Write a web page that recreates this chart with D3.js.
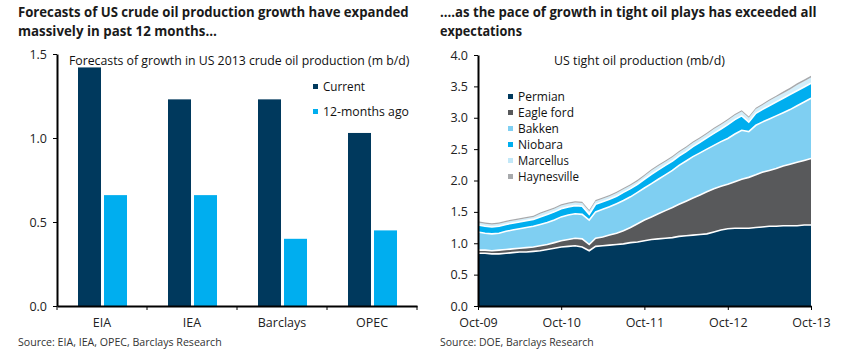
<!DOCTYPE html>
<html><head><meta charset="utf-8">
<script src="https://cdn.jsdelivr.net/npm/d3@7"></script>
<style>
body{margin:0;background:#fff;}
text{font-family:"Open Sans",sans-serif;}
</style></head><body>
<svg id="c" width="846" height="355"></svg>
<script>
// ---------- Left chart data ----------
const categories = ["EIA", "IEA", "Barclays", "OPEC"];
const barSeries = ["Current", "12-months ago"];
const currentVals = [1.42, 1.23, 1.23, 1.03];
const prevVals = [0.66, 0.66, 0.40, 0.45];
const barTicks = [0, 0.5, 1.0, 1.5];

// ---------- Right chart data (monthly Oct-09 .. Oct-13) ----------
const layers = ["Permian", "Eagle ford", "Bakken", "Niobara", "Marcellus", "Haynesville"];
const permian = [.84,.84,.83,.83,.84,.85,.86,.86,.87,.88,.90,.92,.94,.95,.96,.94,.88,.95,.96,.97,.98,.99,1.01,1.02,1.04,1.06,1.07,1.08,1.09,1.11,1.12,1.13,1.14,1.15,1.18,1.21,1.23,1.24,1.24,1.24,1.25,1.26,1.27,1.27,1.28,1.28,1.28,1.29,1.29];
const eagleFord = [.05,.05,.05,.06,.06,.06,.06,.07,.07,.08,.08,.09,.10,.11,.12,.13,.10,.13,.14,.16,.18,.21,.24,.29,.33,.36,.40,.44,.48,.51,.55,.59,.63,.67,.69,.70,.71,.74,.78,.81,.84,.87,.89,.92,.95,.98,1.01,1.03,1.06];
const bakken = [.29,.27,.27,.27,.29,.30,.31,.32,.33,.34,.35,.36,.38,.39,.39,.39,.39,.42,.44,.45,.47,.48,.49,.50,.51,.53,.55,.57,.59,.62,.64,.66,.67,.68,.69,.71,.73,.76,.78,.73,.79,.80,.82,.84,.85,.87,.90,.93,.96];
const niobara = [.11,.11,.11,.11,.11,.11,.11,.11,.11,.12,.13,.13,.13,.13,.13,.13,.09,.12,.12,.12,.12,.13,.13,.13,.14,.15,.15,.15,.15,.15,.15,.16,.17,.18,.19,.20,.22,.23,.23,.15,.19,.20,.21,.22,.23,.24,.24,.24,.24];
const marcellus = [.04,.04,.04,.04,.04,.04,.04,.04,.04,.05,.05,.05,.05,.05,.05,.05,.05,.05,.05,.05,.05,.05,.05,.05,.05,.06,.06,.06,.06,.06,.06,.06,.06,.06,.07,.07,.07,.07,.07,.07,.07,.07,.08,.08,.08,.08,.09,.09,.09];
const haynesville = [.02,.02,.02,.02,.02,.02,.02,.02,.02,.02,.02,.02,.02,.02,.02,.02,.02,.02,.02,.02,.02,.02,.02,.02,.02,.02,.02,.02,.02,.02,.02,.02,.02,.02,.02,.02,.02,.02,.02,.02,.02,.02,.02,.02,.03,.03,.03,.03,.03];
const areaTicks = [0, 0.5, 1.0, 1.5, 2.0, 2.5, 3.0, 3.5, 4.0];
const dateTickLabels = ["Oct-09", "Oct-10", "Oct-11", "Oct-12", "Oct-13"];

const navy = "#00395D", sky = "#00AEEF";
const layerColors = ["#00395D", "#58595B", "#7FCFF2", "#00AEEF", "#D2EEFA", "#A7A9AC"];

const svg = d3.select("#c");
const titleFont = 'Lato,"Open Sans",sans-serif';

// Place text at (x,y) and scale horizontally so that it spans width w
function placeFit(sel, x, y, w) {
  const n = sel.node().getComputedTextLength();
  const sx = n > 0 ? w / n : 1;
  sel.attr("x", 0).attr("y", 0).attr("transform", `translate(${x},${y}) scale(${sx},1)`);
}

// ---------- Titles ----------
[["Forecasts of US crude oil production growth have expanded", 18, 17, 391],
 ["massively in past 12 months…", 18, 36, 199],
 ["….as the pace of growth in tight oil plays has exceeded all", 440, 17, 377],
 ["expectations", 440, 36, 82]].forEach(([t, x, y, w]) => {
  const el = svg.append("text").attr("font-size", 14)
    .attr("font-family", titleFont)
    .attr("font-weight", 700).attr("fill", "#1a1a1a").text(t);
  placeFit(el, x, y, w);
});

// Sources
[["Source: EIA, IEA, OPEC, Barclays Research", 18, 346, 204],
 ["Source: DOE, Barclays Research", 440, 346, 154]].forEach(([t, x, y, w]) => {
  const el = svg.append("text").attr("font-size", 11).attr("fill", "#333").text(t);
  placeFit(el, x, y, w);
});

// ---------- Left bar chart ----------
const yL = d3.scaleLinear().domain([0, 1.5]).range([306, 54]);
const xL = d3.scaleBand().domain(categories).range([57, 417]).padding(0);
const x1 = d3.scaleBand().domain(barSeries).range([21, 70]).paddingInner(0.115);
const barData = categories.map((c, i) => ({ cat: c, vals: [currentVals[i], prevVals[i]] }));
const gL = svg.append("g");
gL.selectAll("g.grp").data(barData).join("g").attr("class", "grp")
  .attr("transform", d => `translate(${xL(d.cat)},0)`)
  .selectAll("rect").data(d => d.vals.map((v, j) => ({ s: barSeries[j], v })))
  .join("rect")
  .attr("x", d => x1(d.s)).attr("width", x1.bandwidth())
  .attr("y", d => yL(d.v)).attr("height", d => yL(0) - yL(d.v))
  .attr("fill", d => d.s === "Current" ? navy : sky);

// Left y axis
const yAxisL = gL.append("g").attr("transform", "translate(57,0)")
  .call(d3.axisLeft(yL).tickValues(barTicks).tickFormat(d3.format(".1f")).tickSize(4).tickSizeOuter(0));
// Left x axis
const xAxisL = gL.append("g").attr("transform", "translate(0,306)")
  .call(d3.axisBottom(xL).tickSize(0).tickSizeOuter(0));
xAxisL.selectAll(".tick text").attr("dy", 0).attr("y", 21);
// boundary ticks
gL.selectAll("line.bt").data(categories.concat(["end"])).join("line").attr("class", "bt")
  .attr("x1", (d, i) => i < categories.length ? xL(d) : xL.range()[1])
  .attr("x2", (d, i) => i < categories.length ? xL(d) : xL.range()[1])
  .attr("y1", 306).attr("y2", 310).attr("stroke", "#000").attr("stroke-width", 1);

// subtitle & legend
placeFit(svg.append("text").attr("font-size", 12.5).attr("fill", "#111")
  .text("Forecasts of growth in US 2013 crude oil production (m b/d)"), 69, 65, 341);
const legL = svg.append("g");
barSeries.forEach((s, i) => {
  const cy = 86.5 + i * 25;
  legL.append("rect").attr("x", 313).attr("y", cy - 2.5).attr("width", 5).attr("height", 5)
    .attr("fill", i === 0 ? navy : sky);
  placeFit(legL.append("text").attr("font-size", 13).attr("fill", "#111").text(s),
    323, cy + 4.5, i === 0 ? 42 : 86);
});

// ---------- Right area chart ----------
const start = new Date(2009, 9, 1);
const months = d3.range(permian.length).map(i => d3.timeMonth.offset(start, i));
const rows = months.map((m, i) => ({
  date: m, "Permian": permian[i], "Eagle ford": eagleFord[i], "Bakken": bakken[i],
  "Niobara": niobara[i], "Marcellus": marcellus[i], "Haynesville": haynesville[i]
}));
const xR = d3.scaleTime().domain([start, d3.timeMonth.offset(start, 48)]).range([478, 811]);
const yR = d3.scaleLinear().domain([0, 4]).range([306, 55]);
const stacked = d3.stack().keys(layers)(rows);
const area = d3.area().x(d => xR(d.data.date)).y0(d => yR(d[0])).y1(d => yR(d[1]));
const lineTop = d3.line().x(d => xR(d.data.date)).y(d => yR(d[1]));
const gR = svg.append("g");
gR.selectAll("path.a").data(stacked).join("path").attr("class", "a")
  .attr("d", area).attr("fill", (d, i) => layerColors[i]);
gR.selectAll("path.sep").data(stacked.slice(0, 4)).join("path").attr("class", "sep")
  .attr("d", lineTop).attr("fill", "none").attr("stroke", "#fff").attr("stroke-width", 1.6);

const yAxisR = gR.append("g").attr("transform", "translate(478,0)")
  .call(d3.axisLeft(yR).tickValues(areaTicks).tickFormat(d3.format(".1f")).tickSize(4).tickSizeOuter(0));
const fmt = d3.timeFormat("%b-%y");
const dateTicks = dateTickLabels.map(l => d3.timeParse("%b-%y")(l));
const xAxisR = gR.append("g").attr("transform", "translate(0,306)")
  .call(d3.axisBottom(xR).tickValues(dateTicks).tickFormat(fmt).tickSize(4).tickSizeOuter(0));
xAxisR.selectAll(".tick text").attr("dy", 0).attr("y", 21);

placeFit(svg.append("text").attr("font-size", 12.5).attr("fill", "#111")
  .text("US tight oil production (mb/d)"), 554, 65, 171);
const legR = svg.append("g");
const legWidths = [47, 56, 41, 45, 51, 61];
layers.forEach((s, i) => {
  const cy = 96.5 + i * 16;
  legR.append("rect").attr("x", 508).attr("y", cy - 2.5).attr("width", 5).attr("height", 5)
    .attr("fill", layerColors[i] === "#D2EEFA" ? "#C2E8F8" : layerColors[i]);
  placeFit(legR.append("text").attr("font-size", 12.5)
    .attr("font-family", titleFont).attr("fill", "#111").text(s), 518, cy + 4.5, legWidths[i]);
});

// Axis styling
[yAxisL, xAxisL, yAxisR, xAxisR].forEach(a => {
  a.select(".domain").attr("stroke", "#000").attr("stroke-width", 2);
  a.selectAll(".tick line").attr("stroke", "#000");
  a.selectAll(".tick text").attr("font-size", 12.5).attr("fill", "#222")
    .attr("font-family", '"Open Sans",sans-serif');
});
[yAxisL, yAxisR].forEach(a => a.selectAll(".tick text").attr("x", -10));
</script>
</body></html>
